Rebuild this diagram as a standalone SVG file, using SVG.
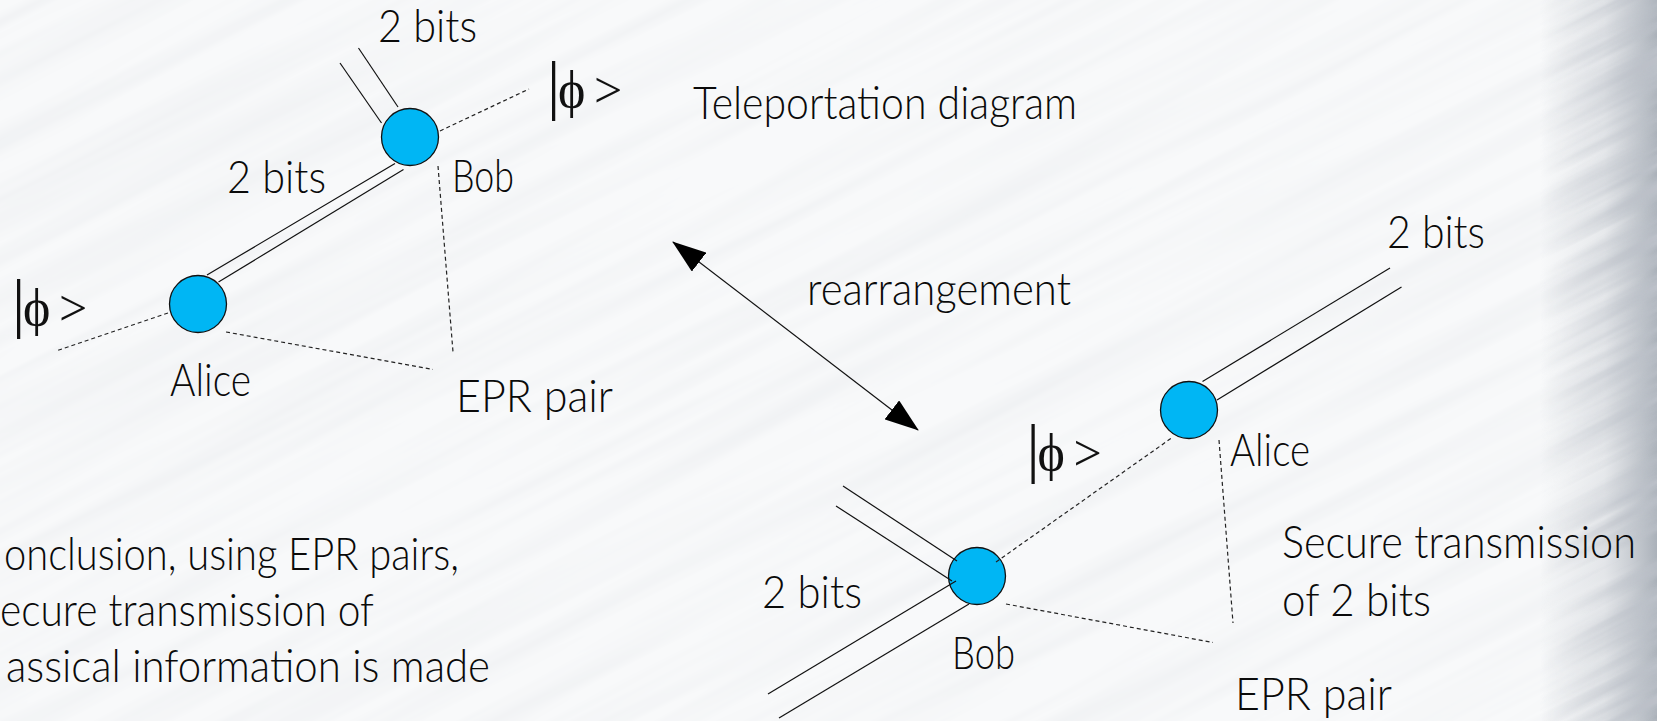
<svg xmlns="http://www.w3.org/2000/svg" width="1657" height="721" viewBox="0 0 1657 721">
  <defs>
    <style>
      .lbl { font-family: Lato, "Liberation Sans", sans-serif; font-weight: 300; font-size: 46px; fill: #0a0a0a; }
      .ket { font-family: "Liberation Serif", "DejaVu Serif", serif; fill: #111; }
      .node circle { fill: #00b6f4; stroke: #111; stroke-width: 1.3; }
      .wire { stroke: #111; stroke-width: 1.2; fill: none; }
      .ent { stroke: #222; stroke-width: 1.2; stroke-dasharray: 4 3; fill: none; }
      .arrow { stroke: #111; stroke-width: 1.2; fill: none; }
    </style>
    <!-- soft diagonal brushed streaks for the backdrop -->
    <filter id="streaks" x="0" y="0" width="100%" height="100%" filterUnits="objectBoundingBox">
      <feTurbulence type="fractalNoise" baseFrequency="0.0016 0.045" numOctaves="3" seed="7"/>
      <feColorMatrix type="matrix" values="0 0 0 0 0.6  0 0 0 0 0.63  0 0 0 0 0.68  0.36 0 0 0 -0.135"/>
    </filter>
    <filter id="streaksStrong" x="0" y="0" width="100%" height="100%" filterUnits="objectBoundingBox">
      <feTurbulence type="fractalNoise" baseFrequency="0.003 0.07" numOctaves="3" seed="3"/>
      <feColorMatrix type="matrix" values="0 0 0 0 0.5  0 0 0 0 0.53  0 0 0 0 0.58  2.2 0 0 0 -0.6"/>
    </filter>
    <linearGradient id="edgeShade" x1="0" y1="0" x2="1" y2="0">
      <stop offset="0" stop-color="#aab0b9" stop-opacity="0"/>
      <stop offset="0.55" stop-color="#aab0b9" stop-opacity="0.22"/>
      <stop offset="1" stop-color="#98a0aa" stop-opacity="0.8"/>
    </linearGradient>
    <linearGradient id="edgeMaskGrad" x1="0" y1="0" x2="1" y2="0">
      <stop offset="0" stop-color="#fff" stop-opacity="0"/>
      <stop offset="1" stop-color="#fff" stop-opacity="1"/>
    </linearGradient>
    <mask id="edgeMask" maskUnits="userSpaceOnUse" x="1540" y="0" width="117" height="721">
      <rect x="1540" y="0" width="117" height="721" fill="url(#edgeMaskGrad)"/>
    </mask>
    <marker id="head" markerUnits="userSpaceOnUse" markerWidth="34" markerHeight="24" viewBox="0 0 34 24" refX="33" refY="12" orient="auto-start-reverse">
      <path d="M0,0 L34,12 L0,24 Z" fill="#000"/>
    </marker>
  </defs>

  <!-- backdrop -->
  <g id="backdrop">
    <rect x="0" y="0" width="1657" height="721" fill="#f8f9fa"/>
    <g transform="rotate(-27 828 360)">
      <rect x="-500" y="-700" width="2700" height="2100" fill="#000" filter="url(#streaks)"/>
    </g>
    <rect x="1540" y="0" width="117" height="721" fill="url(#edgeShade)"/>
    <g mask="url(#edgeMask)">
      <g transform="rotate(-27 1600 360)">
        <rect x="1300" y="-300" width="700" height="1300" fill="#000" filter="url(#streaksStrong)"/>
      </g>
    </g>
  </g>

  <!-- top arrangement -->
  <g id="alice-top" class="node">
    <circle cx="198" cy="304" r="28.5"/>
    <text class="lbl" x="170" y="396" textLength="81" lengthAdjust="spacingAndGlyphs">Alice</text>
  </g>
  <g id="bob-top" class="node">
    <circle cx="410" cy="137" r="28.5"/>
    <text class="lbl" x="452" y="192" textLength="62" lengthAdjust="spacingAndGlyphs">Bob</text>
  </g>

  <!-- bottom arrangement -->
  <g id="alice-bottom" class="node">
    <circle cx="1189" cy="410" r="28.5"/>
    <text class="lbl" x="1230" y="466" textLength="80" lengthAdjust="spacingAndGlyphs">Alice</text>
  </g>
  <g id="bob-bottom" class="node">
    <circle cx="977" cy="576" r="28.5"/>
    <text class="lbl" x="952" y="669" textLength="63" lengthAdjust="spacingAndGlyphs">Bob</text>
  </g>

  <g id="connectors">
    <!-- classical 2-bit channels (double lines) -->
    <line class="wire" x1="207" y1="275" x2="395" y2="163.5"/>
    <line class="wire" x1="218.5" y1="282" x2="403.5" y2="169.5"/>
    <line class="wire" x1="340" y1="63" x2="381.5" y2="123"/>
    <line class="wire" x1="358.5" y1="48" x2="398" y2="107"/>

    <line class="wire" x1="1202.5" y1="381.5" x2="1390" y2="268"/>
    <line class="wire" x1="1217" y1="400" x2="1401.5" y2="287"/>
    <line class="wire" x1="843" y1="486" x2="957" y2="561"/>
    <line class="wire" x1="836" y1="506" x2="952" y2="581"/>
    <line class="wire" x1="768" y1="694" x2="956" y2="581"/>
    <line class="wire" x1="779" y1="718" x2="969" y2="604"/>

    <!-- quantum links (dashed) -->
    <line class="ent" x1="440" y1="131" x2="529" y2="89"/>
    <line class="ent" x1="168" y1="313" x2="56" y2="351"/>
    <line class="ent" x1="226" y1="332" x2="433" y2="369.5"/>
    <line class="ent" x1="438" y1="166" x2="453" y2="352"/>

    <line class="ent" x1="996" y1="562" x2="1173" y2="437"/>
    <line class="ent" x1="1006" y1="604" x2="1213" y2="642.5"/>
    <line class="ent" x1="1219" y1="440" x2="1233" y2="623"/>

    <!-- rearrangement arrow -->
    <line class="arrow" x1="673" y1="242" x2="918" y2="430" marker-start="url(#head)" marker-end="url(#head)"/>
  </g>

  <g id="labels">
    <text class="lbl" x="378" y="42" textLength="99" lengthAdjust="spacingAndGlyphs">2 bits</text>
    <text class="lbl" x="227" y="193" textLength="99" lengthAdjust="spacingAndGlyphs">2 bits</text>
    <text class="lbl" x="456" y="412" textLength="157" lengthAdjust="spacingAndGlyphs">EPR pair</text>
    <text class="lbl" x="693" y="119" textLength="384" lengthAdjust="spacingAndGlyphs">Teleportation diagram</text>
    <text class="lbl" x="807" y="305" textLength="264" lengthAdjust="spacingAndGlyphs">rearrangement</text>
    <text class="lbl" x="1387" y="248" textLength="98" lengthAdjust="spacingAndGlyphs">2 bits</text>
    <text class="lbl" x="762" y="608" textLength="100" lengthAdjust="spacingAndGlyphs">2 bits</text>
    <text class="lbl" x="1282" y="558" textLength="354" lengthAdjust="spacingAndGlyphs">Secure transmission</text>
    <text class="lbl" x="1282" y="616" textLength="149" lengthAdjust="spacingAndGlyphs">of 2 bits</text>
    <text class="lbl" x="1235" y="710" textLength="157" lengthAdjust="spacingAndGlyphs">EPR pair</text>

    <!-- kets -->
    <text class="ket" y="107"><tspan x="547" font-size="66">|</tspan><tspan x="558" font-size="52">ϕ</tspan><tspan x="594" font-size="50">&gt;</tspan></text>
    <text class="ket" y="107" transform="translate(-535 218)"><tspan x="547" font-size="66">|</tspan><tspan x="558" font-size="52">ϕ</tspan><tspan x="594" font-size="50">&gt;</tspan></text>
    <text class="ket" y="107" transform="translate(479.5 363)"><tspan x="547" font-size="66">|</tspan><tspan x="558" font-size="52">ϕ</tspan><tspan x="594" font-size="50">&gt;</tspan></text>
  </g>

  <g id="conclusion">
    <text class="lbl" x="4" y="570" textLength="455" lengthAdjust="spacingAndGlyphs">onclusion, using EPR pairs,</text>
    <text class="lbl" x="0" y="626" textLength="374" lengthAdjust="spacingAndGlyphs">ecure transmission of</text>
    <text class="lbl" x="6" y="682" textLength="484" lengthAdjust="spacingAndGlyphs">assical information is made</text>
  </g>
</svg>
